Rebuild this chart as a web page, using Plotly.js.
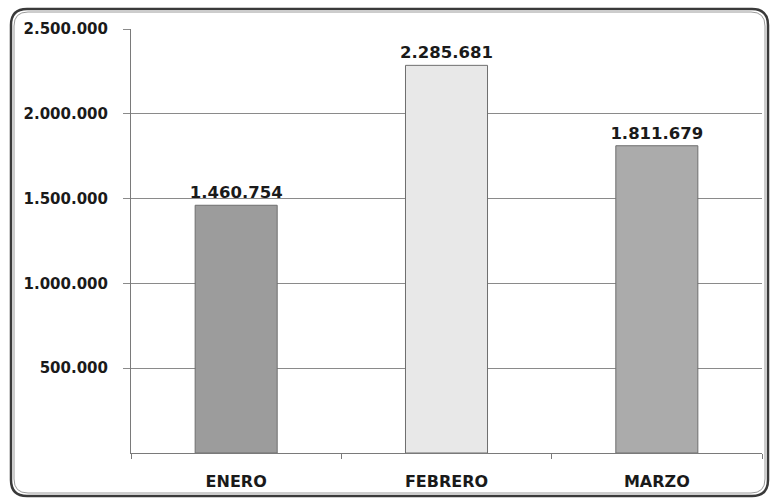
<!DOCTYPE html>
<html>
<head>
<meta charset="utf-8">
<script src="https://cdn.plot.ly/plotly-3.0.1.min.js"></script>
<style>html,body{margin:0;padding:0;background:#fff;}#chart{width:772px;height:501px;}</style>
</head>
<body>
<div id="chart"></div>
<script>
const categories = ["ENERO", "FEBRERO", "MARZO"];
const values = [1460754, 2285681, 1811679];
const barColors = ["#9c9c9c", "#e8e8e8", "#ababab"];
const yTickVals = [500000, 1000000, 1500000, 2000000, 2500000];
const yTickText = ["500.000", "1.000.000", "1.500.000", "2.000.000", "2.500.000"];

const W = 772, H = 501;
const m = {l: 131, r: 10, t: 29, b: 48};
const pw = W - m.l - m.r, ph = H - m.t - m.b;
function px(x) { return (x - m.l) / pw; }
function py(y) { return (H - m.b - y) / ph; }
function roundRect(x0, y0, x1, y1, r) {
  const rx = r / pw, ry = r / ph;
  const L = px(x0), R = px(x1), T = py(y0), B = py(y1);
  return `M ${L + rx},${T} L ${R - rx},${T} Q ${R},${T} ${R},${T - ry} L ${R},${B + ry} Q ${R},${B} ${R - rx},${B} L ${L + rx},${B} Q ${L},${B} ${L},${B + ry} L ${L},${T - ry} Q ${L},${T} ${L + rx},${T} Z`;
}

const font = "'DejaVu Sans', 'Liberation Sans', sans-serif";

const trace = {
  type: "bar",
  x: categories,
  y: values,
  width: 0.39,
  marker: {color: barColors, line: {color: "#6e6e6e", width: 1}},
  text: values,
  texttemplate: "%{y:,}",
  textposition: "outside",
  constraintext: "none",
  cliponaxis: false,
  textfont: {family: font, size: 16.5, color: "#1a1a1a", weight: 700},
  hoverinfo: "skip"
};

const layout = {
  width: W, height: H,
  margin: m,
  paper_bgcolor: "#ffffff",
  plot_bgcolor: "#ffffff",
  separators: ",.",
  showlegend: false,
  bargap: 0.6,
  xaxis: {
    showgrid: false,
    showline: true, linecolor: "#7a7a7a", linewidth: 1,
    ticks: "outside", tickson: "boundaries", ticklen: 5, tickcolor: "#7a7a7a",
    tickfont: {family: font, size: 16, color: "#1a1a1a", weight: 700},
    ticklabelstandoff: 14,
    fixedrange: true
  },
  yaxis: {
    range: [0, 2500000],
    tickvals: yTickVals, ticktext: yTickText,
    showgrid: true, gridcolor: "#8a8a8a", gridwidth: 1,
    showline: true, linecolor: "#7a7a7a", linewidth: 1,
    ticks: "outside", ticklen: 7, tickcolor: "#8a8a8a",
    tickfont: {family: font, size: 15, color: "#1a1a1a", weight: 700},
    ticklabelstandoff: 12,
    zeroline: false,
    fixedrange: true
  },
  shapes: [
    {type: "path", xref: "paper", yref: "paper", path: roundRect(11, 9, 768, 496, 16),
     line: {color: "#3a3a3a", width: 2.5}, fillcolor: "rgba(0,0,0,0)", layer: "above"},
    {type: "path", xref: "paper", yref: "paper", path: roundRect(14, 12, 765, 493, 14),
     line: {color: "#9a9a9a", width: 1}, fillcolor: "rgba(0,0,0,0)", layer: "above"}
  ]
};

Plotly.newPlot("chart", [trace], layout, {displayModeBar: false, staticPlot: true});
</script>
</body>
</html>
